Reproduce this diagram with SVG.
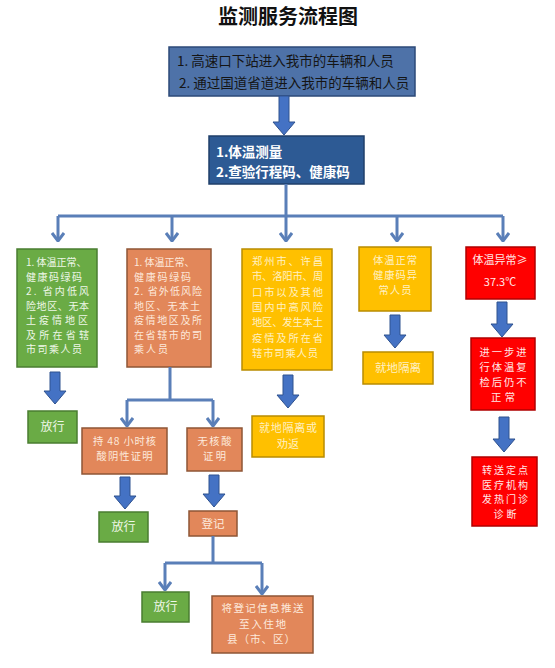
<svg xmlns="http://www.w3.org/2000/svg" width="555" height="668" viewBox="0 0 555 668">
<defs>
<marker id="chev" viewBox="0 0 10 14" refX="9" refY="7" markerWidth="10" markerHeight="14" markerUnits="userSpaceOnUse" orient="auto">
<path d="M1,1 L9,7 L1,13" fill="none" stroke="#5a7fb8" stroke-width="3"/>
</marker>
<style>
text{font-family:"Noto Sans CJK SC","Liberation Sans",sans-serif;}
.title{font-size:20px;font-weight:bold;fill:#111;text-anchor:middle;}
.b1{fill:#4e72a8;stroke:#2c4a78;stroke-width:1.5;}
.b2{fill:#2d5a94;stroke:#1f3f6a;stroke-width:1.5;}
.g{fill:#6aab45;stroke:#4a7d30;stroke-width:1.5;}
.o{fill:#e2875a;stroke:#8e5636;stroke-width:1.5;}
.y{fill:#ffc000;stroke:#b98c00;stroke-width:1.5;}
.r{fill:#ff0000;stroke:#b00000;stroke-width:1.5;}
.t1{font-size:13.5px;fill:#151515;}
.t2{font-size:13.5px;font-weight:bold;fill:#fff;}
.tg{font-size:10px;fill:#eef7e8;}
.to{font-size:10px;fill:#fde9dc;}
.ty{font-size:10.3px;fill:#fff1c4;}
.tr{font-size:10.3px;fill:#ffe8e8;}
.m{text-anchor:middle;}
.con{fill:none;stroke:#5a7fb8;stroke-width:3;}
.arr{fill:#4472c4;stroke:#2f528f;stroke-width:1;}
</style>
</defs>
<rect width="555" height="668" fill="#fff"/>
<text class="title" x="288" y="24">监测服务流程图</text>

<g id="n1"><rect class="b1" x="169" y="47" width="246" height="49"/>
<text class="t1" x="177" y="66">1. 高速口下站进入我市的车辆和人员</text>
<text class="t1" x="179" y="88">2. 通过国道省道进入我市的车辆和人员</text></g>

<g id="n2"><rect class="b2" x="209" y="136" width="155" height="48"/>
<text class="t2" x="216" y="157">1.体温测量</text>
<text class="t2" x="216" y="177">2.查验行程码、健康码</text></g>

<g id="n3"><rect class="g" x="17" y="249" width="80" height="118"/>
<text class="tg" x="26" y="266">1. 体温正常、</text>
<text class="tg" x="26" y="280.5" textLength="56" lengthAdjust="spacing">健康码绿码</text>
<text class="tg" x="26" y="295" textLength="63" lengthAdjust="spacing">2. 省内低风</text>
<text class="tg" x="26" y="309.5" textLength="63" lengthAdjust="spacing">险地区、无本</text>
<text class="tg" x="26" y="324" textLength="62" lengthAdjust="spacing">土疫情地区</text>
<text class="tg" x="26" y="338.5" textLength="63" lengthAdjust="spacing">及所在省辖</text>
<text class="tg" x="26" y="353" textLength="56" lengthAdjust="spacing">市司乘人员</text></g>

<g id="n4"><rect class="o" x="127" y="249" width="84" height="118"/>
<text class="to" x="134" y="266">1. 体温正常、</text>
<text class="to" x="134" y="280.5" textLength="57" lengthAdjust="spacing">健康码绿码</text>
<text class="to" x="134" y="295" textLength="68" lengthAdjust="spacing">2. 省外低风险</text>
<text class="to" x="134" y="309.5" textLength="66" lengthAdjust="spacing">地区、无本土</text>
<text class="to" x="134" y="324" textLength="68" lengthAdjust="spacing">疫情地区及所</text>
<text class="to" x="134" y="338.5" textLength="68" lengthAdjust="spacing">在省辖市的司</text>
<text class="to" x="134" y="353" textLength="34" lengthAdjust="spacing">乘人员</text></g>

<g id="n5"><rect class="y" x="242" y="249" width="90" height="121"/>
<text class="ty" x="252" y="265" textLength="71" lengthAdjust="spacing">郑州市、许昌</text>
<text class="ty" x="252" y="280.3" textLength="71" lengthAdjust="spacing">市、洛阳市、周</text>
<text class="ty" x="252" y="295.6" textLength="71" lengthAdjust="spacing">口市以及其他</text>
<text class="ty" x="252" y="310.9" textLength="71" lengthAdjust="spacing">国内中高风险</text>
<text class="ty" x="252" y="326.2" textLength="71" lengthAdjust="spacing">地区、发生本土</text>
<text class="ty" x="252" y="341.5" textLength="71" lengthAdjust="spacing">疫情及所在省</text>
<text class="ty" x="252" y="356.8" textLength="66" lengthAdjust="spacing">辖市司乘人员</text></g>

<g id="n6"><rect class="y" x="359" y="247" width="72" height="64"/>
<text class="ty m" x="395" y="264" textLength="44" lengthAdjust="spacing">体温正常</text>
<text class="ty m" x="395" y="279" textLength="44" lengthAdjust="spacing">健康码异</text>
<text class="ty m" x="395" y="294" textLength="33" lengthAdjust="spacing">常人员</text></g>

<g id="n7"><rect class="r" x="466" y="247" width="69" height="52"/>
<text class="tr m" x="500" y="264" style="font-size:11px">体温异常≥</text>
<text class="tr m" x="500" y="286" style="font-size:11px">37.3℃</text></g>

<g id="n8"><rect class="g" x="28" y="411" width="49" height="32"/>
<text class="tg m" x="52.5" y="431" style="font-size:12px">放行</text></g>

<g id="n9"><rect class="o" x="82" y="428" width="85" height="46"/>
<text class="to m" x="124.5" y="445" style="font-size:10.3px" textLength="63" lengthAdjust="spacing">持 48 小时核</text>
<text class="to m" x="124.5" y="460" style="font-size:10.3px" textLength="56" lengthAdjust="spacing">酸阴性证明</text></g>

<g id="n10"><rect class="o" x="187" y="428" width="55" height="43"/>
<text class="to m" x="214.5" y="445" style="font-size:10.3px" textLength="34" lengthAdjust="spacing">无核酸</text>
<text class="to m" x="214.5" y="460" style="font-size:10.3px" textLength="23" lengthAdjust="spacing">证明</text></g>

<g id="n11"><rect class="y" x="252" y="416" width="72" height="41"/>
<text class="ty m" x="288" y="432" style="font-size:11px" textLength="58" lengthAdjust="spacing">就地隔离或</text>
<text class="ty m" x="288" y="448" style="font-size:11px">劝返</text></g>

<g id="n12"><rect class="y" x="363" y="352" width="70" height="32"/>
<text class="ty m" x="398" y="372" style="font-size:11.5px">就地隔离</text></g>

<g id="n13"><rect class="r" x="471" y="338" width="64" height="72"/>
<text class="tr m" x="503" y="356" textLength="47" lengthAdjust="spacing">进一步进</text>
<text class="tr m" x="503" y="371" textLength="47" lengthAdjust="spacing">行体温复</text>
<text class="tr m" x="503" y="386" textLength="47" lengthAdjust="spacing">检后仍不</text>
<text class="tr m" x="503" y="401" textLength="24" lengthAdjust="spacing">正常</text></g>

<g id="n14"><rect class="r" x="472" y="457" width="65" height="69"/>
<text class="tr m" x="505" y="474" style="font-size:10px" textLength="46" lengthAdjust="spacing">转送定点</text>
<text class="tr m" x="505" y="488.7" style="font-size:10px" textLength="46" lengthAdjust="spacing">医疗机构</text>
<text class="tr m" x="505" y="503.4" style="font-size:10px" textLength="46" lengthAdjust="spacing">发热门诊</text>
<text class="tr m" x="505" y="518.1" style="font-size:10px" textLength="23" lengthAdjust="spacing">诊断</text></g>

<g id="n15"><rect class="g" x="99" y="512" width="49" height="30"/>
<text class="tg m" x="123.5" y="531" style="font-size:12px">放行</text></g>

<g id="n16"><rect class="o" x="189" y="511" width="48" height="25"/>
<text class="to m" x="213" y="528" style="font-size:11.5px">登记</text></g>

<g id="n17"><rect class="g" x="142" y="592" width="47" height="30"/>
<text class="tg m" x="165.5" y="611" style="font-size:12px">放行</text></g>

<g id="n18"><rect class="o" x="212" y="596" width="101" height="57"/>
<text class="to m" x="262.5" y="612" style="font-size:10.6px" textLength="82" lengthAdjust="spacing">将登记信息推送</text>
<text class="to m" x="262.5" y="627.5" style="font-size:10.6px" textLength="47" lengthAdjust="spacing">至入住地</text>
<text class="to" x="227" y="643" style="font-size:10.6px" textLength="68" lengthAdjust="spacing">县（市、区）</text></g>

<g id="connectors">
<path class="con" d="M286,184 V216 M58,216 H503"/>
<path class="con" d="M58,216 V241" marker-end="url(#chev)"/>
<path class="con" d="M172,216 V241" marker-end="url(#chev)"/>
<path class="con" d="M286,216 V241" marker-end="url(#chev)"/>
<path class="con" d="M397,216 V241" marker-end="url(#chev)"/>
<path class="con" d="M503,216 V241" marker-end="url(#chev)"/>
<path class="con" d="M170,367 V400 M127,400 H213"/>
<path class="con" d="M127,400 V426" marker-end="url(#chev)"/>
<path class="con" d="M213,400 V426" marker-end="url(#chev)"/>
<path class="con" d="M213,536 V563 M165,563 H262"/>
<path class="con" d="M165,563 V590" marker-end="url(#chev)"/>
<path class="con" d="M262,563 V594" marker-end="url(#chev)"/>
<path class="arr" d="M279,96 H289 V122 H295 L284,135 L273,122 H279 Z"/>
<path class="arr" d="M50,372 H60 V391 H66 L55,404 L44,391 H50 Z"/>
<path class="arr" d="M120,477 H130 V496 H136 L125,509 L114,496 H120 Z"/>
<path class="arr" d="M209,475 H219 V494 H225 L214,507 L203,494 H209 Z"/>
<path class="arr" d="M283,375 H293 V395 H299 L288,408 L277,395 H283 Z"/>
<path class="arr" d="M390,315 H400 V335 H406 L395,348 L384,335 H390 Z"/>
<path class="arr" d="M497,302 H507 V324 H513 L502,337 L491,324 H497 Z"/>
<path class="arr" d="M499,417 H509 V439 H515 L504,452 L493,439 H499 Z"/>
</g>
</svg>
